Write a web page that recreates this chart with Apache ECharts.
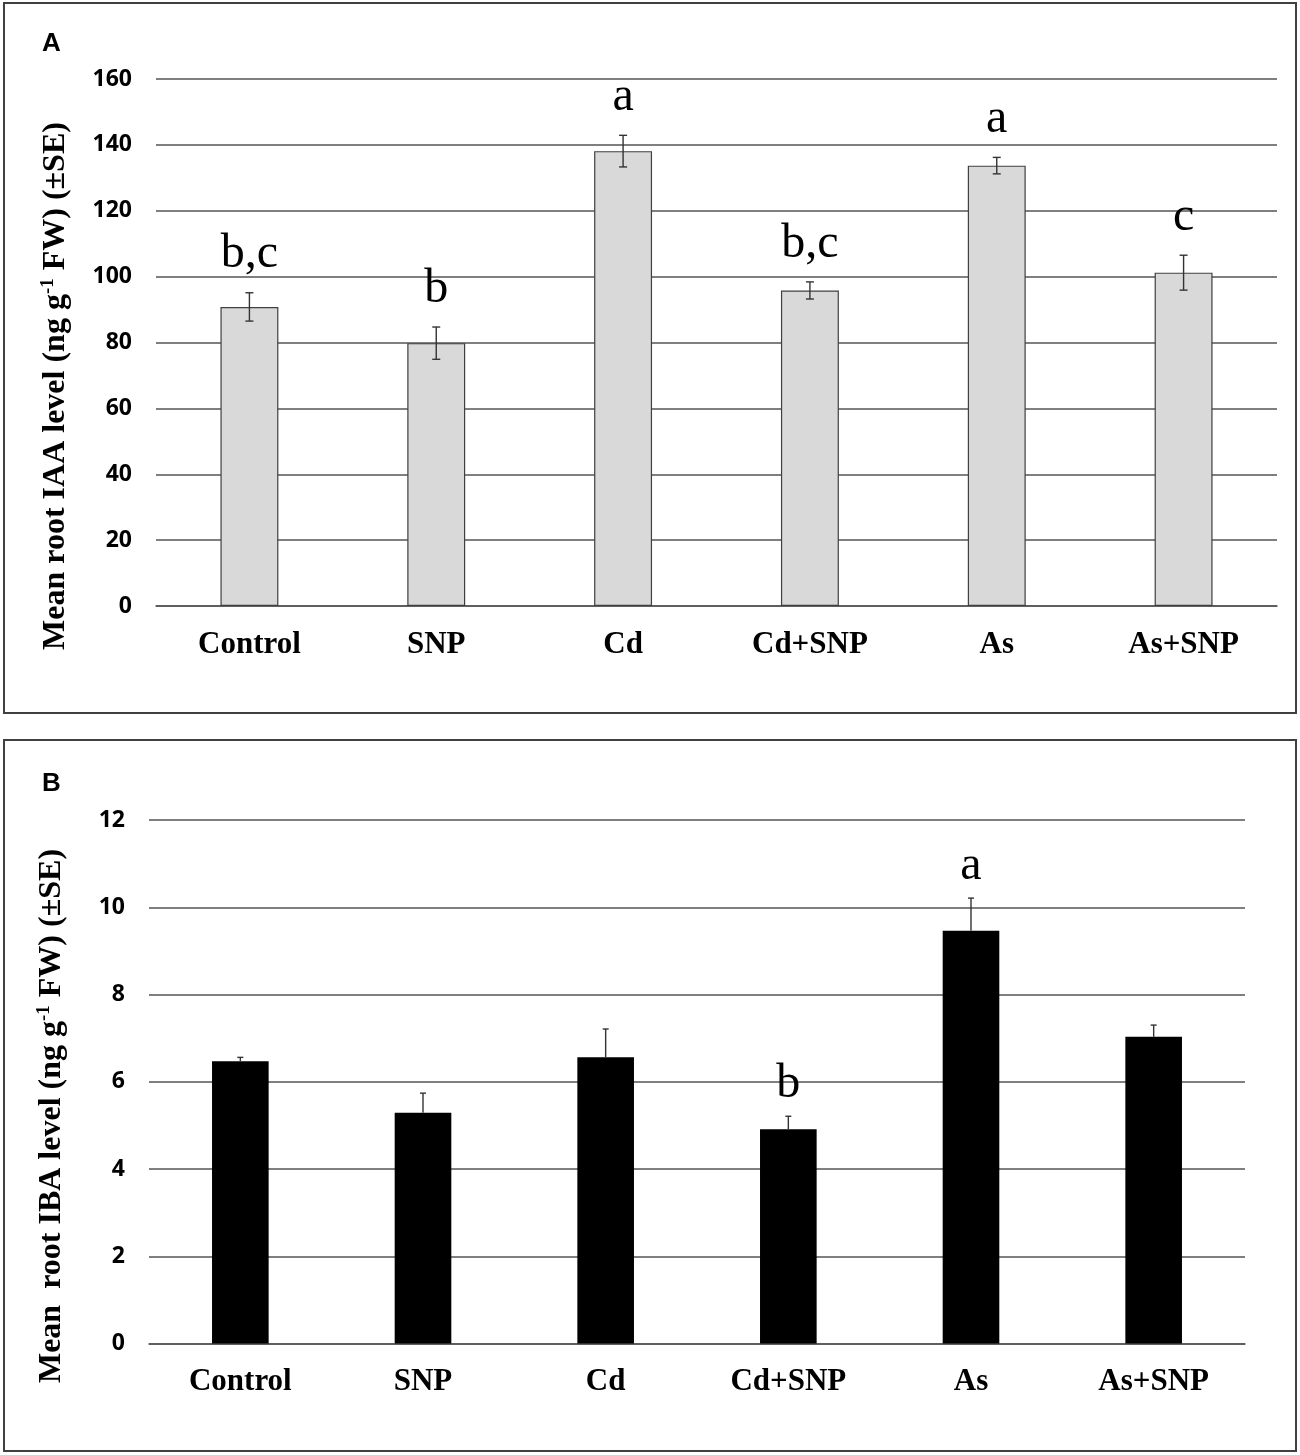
<!DOCTYPE html>
<html>
<head>
<meta charset="utf-8">
<script src="https://cdn.jsdelivr.net/npm/echarts@6/dist/echarts.min.js"></script>
<style>
  html, body { margin: 0; padding: 0; background: #fff; }
  #main { width: 1300px; height: 1455px; }
</style>
</head>
<body>
<div id="main"></div>
<script>
// treatments, shared by both panels
const categories = ['Control', 'SNP', 'Cd', 'Cd+SNP', 'As', 'As+SNP']

// panel A - root IAA (ng g-1 FW)
const iaaMean = [90.8, 79.8, 138.1, 95.8, 133.7, 101.2]
const iaaSE = [4.3, 4.9, 4.8, 2.6, 2.5, 5.3]
const iaaLetters = ['b,c', 'b', 'a', 'b,c', 'a', 'c']
const iaaTicks = { min: 0, max: 160, interval: 20 }

// panel B - root IBA (ng g-1 FW)
const ibaMean = [6.47, 5.29, 6.56, 4.91, 9.46, 7.03]
const ibaSE = [0.09, 0.45, 0.65, 0.30, 0.75, 0.27]
const ibaLetters = ['', '', '', 'b', 'a', '']
const ibaTicks = { min: 0, max: 12, interval: 2 }

const SERIF = '"Liberation Serif", "Times New Roman", serif'
const SANS = '"Open Sans", Lato, sans-serif'

const chart = echarts.init(document.getElementById('main'), null, { renderer: 'canvas' })

// error bar + significance letter, drawn through the axis scale
function errorBars(letters, opts) {
  return function (params, api) {
    const i = api.value(0)
    const lo = api.coord([i, api.value(1)])
    const hi = api.coord([i, api.value(2)])
    const x = hi[0]
    const half = opts.cap / 2
    const line = { stroke: opts.color, lineWidth: opts.lineWidth }
    const children = [
      { type: 'line', shape: { x1: x, y1: lo[1], x2: x, y2: hi[1] }, style: line },
      { type: 'line', shape: { x1: x - half, y1: hi[1], x2: x + half, y2: hi[1] }, style: line }
    ]
    if (opts.both) {
      children.push({ type: 'line', shape: { x1: x - half, y1: lo[1], x2: x + half, y2: lo[1] }, style: line })
    }
    const txt = letters[params.dataIndex]
    if (txt) {
      children.push({
        type: 'text',
        style: {
          text: txt, x: x, y: hi[1] - opts.gap,
          align: 'center', verticalAlign: 'bottom',
          font: '48px ' + SERIF, fill: '#000'
        }
      })
    }
    return { type: 'group', children: children }
  }
}

function yAxis(gridIndex, ticks) {
  return {
    type: 'value', gridIndex: gridIndex,
    min: ticks.min, max: ticks.max, interval: ticks.interval,
    axisLine: { show: false }, axisTick: { show: false },
    axisLabel: { margin: 24, color: '#000', fontFamily: SANS, fontWeight: 700, fontSize: 23 },
    splitLine: { lineStyle: { color: '#555', width: 1.5 } }
  }
}

function xAxis(gridIndex) {
  return {
    type: 'category', gridIndex: gridIndex, data: categories,
    axisLine: { lineStyle: { color: '#555', width: 1.5 } },
    axisTick: { show: false },
    axisLabel: { margin: 23, color: '#000', fontFamily: SERIF, fontWeight: 'bold', fontSize: 31, interval: 0 }
  }
}

function yName(text, x, y) {
  return {
    type: 'text', x: x, y: y, rotation: Math.PI / 2,
    style: {
      text: text,
      align: 'center', verticalAlign: 'middle',
      rich: {
        n: { fontFamily: SERIF, fontWeight: 'bold', fontSize: 32, fill: '#000' },
        s: { fontFamily: SERIF, fontWeight: 'bold', fontSize: 19, fill: '#000', verticalAlign: 'top', padding: [0, 0, 15, 0] }
      }
    }
  }
}

const option = {
  animation: false,
  backgroundColor: '#fff',
  grid: [
    { left: 156, top: 79, width: 1121, height: 527 },
    { left: 149, top: 820, width: 1096, height: 523.6 }
  ],
  xAxis: [xAxis(0), xAxis(1)],
  yAxis: [yAxis(0, iaaTicks), yAxis(1, ibaTicks)],
  series: [
    {
      type: 'bar', xAxisIndex: 0, yAxisIndex: 0, data: iaaMean, barWidth: '31%',
      itemStyle: { color: '#d9d9d9', borderColor: '#404040', borderWidth: 1.2 }
    },
    {
      type: 'custom', xAxisIndex: 0, yAxisIndex: 0, z: 3,
      data: iaaMean.map((m, i) => [i, m - iaaSE[i], m + iaaSE[i]]),
      renderItem: errorBars(iaaLetters, { both: true, cap: 8, color: '#333', lineWidth: 1.4, gap: 14 })
    },
    {
      type: 'bar', xAxisIndex: 1, yAxisIndex: 1, data: ibaMean, barWidth: '31%',
      itemStyle: { color: '#000' }
    },
    {
      type: 'custom', xAxisIndex: 1, yAxisIndex: 1, z: 3,
      data: ibaMean.map((m, i) => [i, m, m + ibaSE[i]]),
      renderItem: errorBars(ibaLetters, { both: false, cap: 6, color: '#333', lineWidth: 1.4, gap: 8 })
    }
  ],
  graphic: [
    { type: 'rect', shape: { x: 4, y: 3, width: 1292, height: 710 }, style: { fill: 'none', stroke: '#404040', lineWidth: 2 } },
    { type: 'rect', shape: { x: 4, y: 740, width: 1292, height: 711 }, style: { fill: 'none', stroke: '#404040', lineWidth: 2 } },
    { type: 'text', x: 42, y: 31, style: { text: 'A', font: 'bold 26px "Liberation Sans", Arial, sans-serif', fill: '#000' } },
    { type: 'text', x: 42, y: 771, style: { text: 'B', font: 'bold 26px "Liberation Sans", Arial, sans-serif', fill: '#000' } },
    yName('{n|Mean root IAA level (ng g}{s|-1}{n| FW) (±SE)}', 56, 386),
    yName('{n|Mean  root IBA level (ng g}{s|-1}{n| FW) (±SE)}', 52, 1116)
  ]
}

chart.setOption(option)
</script>
</body>
</html>
